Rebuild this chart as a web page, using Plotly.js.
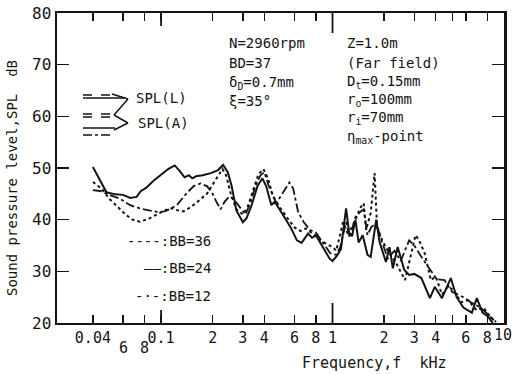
<!DOCTYPE html>
<html><head><meta charset="utf-8">
<script src="https://cdn.plot.ly/plotly-3.0.1.min.js"></script>
<style>html,body{margin:0;padding:0;background:#fff}#chart{width:512px;height:374px}</style>
</head><body><div id="chart"></div>
<script>
// ---- data (frequency in kHz, SPL in dB) ----
const freqBB36 = [0.040,0.045,0.050,0.056,0.062,0.068,0.075,0.085,0.095,0.105,0.115,0.125,0.135,0.150,0.165,0.185,0.200,0.215,0.228,0.240,0.255,0.275,0.300,0.320,0.345,0.370,0.395,0.420,0.450,0.490,0.540,0.600,0.650,0.700,0.750,0.820,0.900,1.00,1.05,1.10,1.15,1.22,1.30,1.38,1.46,1.52,1.57,1.67,1.76,1.82,1.95,2.10,2.35,2.65,2.90,3.05,3.20,3.45,3.75,4.00,4.35,4.70,5.10,5.60,6.20,6.90,7.60,8.20,8.90];
const splBB36  = [47.3,46.0,44.0,42.5,41.0,40.0,39.6,40.2,41.0,41.8,42.2,41.8,41.6,42.5,43.6,45.0,46.8,48.5,49.8,48.5,45.0,42.0,41.0,42.5,46.0,48.8,49.8,48.0,44.5,42.5,40.5,38.5,37.8,38.3,37.5,36.5,35.5,34.7,34.0,36.6,39.5,37.5,38.5,40.5,42.4,43.2,38.0,41.3,49.0,38.5,36.0,34.0,31.6,28.3,34.0,37.0,36.0,33.5,28.3,29.0,25.5,27.0,26.4,24.0,24.4,22.5,23.0,21.5,20.2];

const freqBB24 = [0.040,0.044,0.048,0.054,0.060,0.066,0.072,0.076,0.082,0.090,0.100,0.110,0.120,0.128,0.137,0.145,0.152,0.160,0.175,0.195,0.215,0.230,0.245,0.258,0.275,0.300,0.315,0.335,0.365,0.390,0.410,0.440,0.460,0.490,0.530,0.570,0.620,0.660,0.720,0.760,0.800,0.880,0.960,1.00,1.06,1.12,1.20,1.25,1.30,1.36,1.42,1.50,1.60,1.67,1.76,1.80,1.88,2.05,2.15,2.25,2.40,2.62,2.80,3.00,3.30,3.70,3.95,4.35,4.90,5.30,5.80,6.50,6.95,7.50,8.10,8.60];
const splBB24  = [50.2,47.5,45.3,44.9,44.8,44.2,44.4,45.5,46.2,47.5,48.8,49.8,50.5,49.5,48.2,48.6,48.0,48.4,48.6,49.0,49.6,50.6,49.2,46.5,41.8,39.5,40.3,42.5,46.5,48.0,46.5,42.8,43.5,42.0,40.2,38.5,36.0,35.5,37.3,36.5,37.0,34.5,32.5,32.0,33.0,34.3,42.2,37.5,36.8,40.0,35.6,37.0,33.2,32.8,38.0,40.0,35.7,31.8,34.7,30.6,34.7,30.3,29.3,29.5,28.7,24.8,27.0,24.8,28.7,25.0,23.0,22.0,24.8,22.0,21.2,20.0];

const freqBB12 = [0.040,0.045,0.050,0.058,0.066,0.075,0.085,0.095,0.105,0.115,0.125,0.140,0.155,0.170,0.185,0.198,0.210,0.222,0.235,0.250,0.265,0.285,0.310,0.330,0.355,0.380,0.400,0.425,0.470,0.520,0.560,0.590,0.630,0.680,0.740,0.800,0.880,0.970,1.05,1.11,1.20,1.26,1.36,1.45,1.52,1.60,1.68,1.80,1.93,2.10,2.30,2.50,2.80,3.00,3.30,3.70,4.05,4.50,5.00,5.80,6.40,7.30,8.40,9.00];
const splBB12  = [45.7,45.5,44.8,44.0,42.8,42.2,41.8,41.5,41.6,42.2,43.0,45.0,46.5,47.0,46.5,45.3,43.5,42.0,43.5,44.5,44.0,42.5,41.0,43.0,46.5,48.6,49.2,46.5,43.2,45.5,47.2,46.0,41.5,39.5,38.0,37.5,35.5,33.5,33.2,34.7,39.5,36.5,40.5,41.5,42.0,37.0,38.5,39.4,36.0,32.5,34.0,32.0,36.0,35.0,32.8,30.3,28.5,28.3,26.0,25.0,24.0,23.0,21.0,20.2];

const xTickVals = [0.04,0.06,0.08,0.1,0.2,0.3,0.4,0.6,0.8,1,2,3,4,5,6,8,10];
const xTickText = ["0.04","","","0.1","2","3","4","6","8","1","2","3","4","","6","8",""];
const xSubTickVals = [0.06, 0.08];          // labels set on a second row
const xSubTickText = ["6", "8"];
const xEndTickVal = 10;                     // label at the right edge, pulled inward
const xEndTickText = "10";
const xDecadeVals = [0.1, 1];               // longer ticks
const yTickVals = [20,30,40,50,60,70,80];

// ---- layout helpers (pixel -> paper), plot area 57..504 x 13..323 ----
const L = 57, T = 13, W = 447, H = 310;
const px = x => (x - L) / W;
const py = y => (T + H - y) / H;

const FONT = "DejaVu Sans Mono";
const ink = "#141414";

const traces = [
  {x: freqBB36, y: splBB36, mode: "lines", line: {color: ink, width: 2, dash: "dot"}, name: "BB=36"},
  {x: freqBB24, y: splBB24, mode: "lines", line: {color: ink, width: 2}, name: "BB=24"},
  {x: freqBB12, y: splBB12, mode: "lines", line: {color: ink, width: 1.8, dash: "dashdot"}, name: "BB=12"}
];

function note(x, y, text, extra) {
  return Object.assign({xref: "paper", yref: "paper", x: px(x), y: py(y), text: text,
    showarrow: false, xanchor: "left", yanchor: "middle",
    font: {family: FONT, size: 14, color: ink}}, extra || {});
}

const annotations = [
  note(227, 43, "N=2960rpm"),
  note(227, 63, "BD=37"),
  note(227, 83, "δ<sub>D</sub>=0.7mm"),
  note(227, 101, "ξ=35°"),
  note(345, 43, "Z=1.0m"),
  note(345, 63, "(Far field)"),
  note(345, 82, "D<sub>t</sub>=0.15mm"),
  note(345, 100, "r<sub>o</sub>=100mm"),
  note(345, 118, "r<sub>i</sub>=70mm"),
  note(345, 137, "η<sub>max</sub>-point"),
  note(134, 98, "SPL(L)"),
  note(136, 123, "SPL(A)"),
  note(213, 241, "----:BB=36", {xanchor: "right"}),
  note(213, 268, "——:BB=24", {xanchor: "right"}),
  note(213, 296, "-·-:BB=12", {xanchor: "right"}),
  note(12, 178, "Sound pressure level,SPL  dB", {xanchor: "center", textangle: -90, font: {family: FONT, size: 14, color: ink}}),
  note(374, 363, "Frequency,f  kHz", {xanchor: "center", font: {family: FONT, size: 15, color: ink}})
];
xSubTickVals.forEach((v, i) => annotations.push({xref: "x", yref: "paper", x: Math.log10(v), y: py(348),
  text: xSubTickText[i], showarrow: false, xanchor: "center", yanchor: "middle",
  font: {family: FONT, size: 15, color: ink}}));
annotations.push({xref: "x", yref: "paper", x: Math.log10(xEndTickVal), xshift: -1, y: py(335),
  text: xEndTickText, showarrow: false, xanchor: "center", yanchor: "middle",
  font: {family: FONT, size: 15, color: ink}});

function seg(x0, y0, x1, y1, dash, w) {
  return {type: "line", xref: "paper", yref: "paper", x0: px(x0), y0: py(y0), x1: px(x1), y1: py(y1),
    line: {color: ink, width: w || 1.5, dash: dash || "solid"}};
}
const shapes = [
  seg(83, 95, 113, 95, "dash"),
  seg(83, 98, 124, 98, "solid"),
  seg(83, 114, 112, 114, "dash"),
  seg(83, 117, 112, 117, "dash"),
  seg(83, 128, 115, 128, "solid"),
  seg(83, 135, 112, 135, "dashdot"),
  seg(112, 94, 128, 99), seg(128, 99, 114, 115), seg(114, 115, 128, 123), seg(128, 123, 114, 130)
];
// longer decade ticks (bottom and top)
xDecadeVals.forEach((v, i) => {
  const len = (i === 0 ? 13 : 20) / H;
  shapes.push({type: "line", xref: "x", yref: "paper", x0: v, x1: v, y0: 0, y1: len, line: {color: ink, width: 1.8}});
  shapes.push({type: "line", xref: "x", yref: "paper", x0: v, x1: v, y0: 1 - len, y1: 1, line: {color: ink, width: 1.8}});
});

const layout = {
  width: 512, height: 374,
  margin: {l: L, r: 512 - L - W, t: T, b: 374 - T - H},
  paper_bgcolor: "#fff", plot_bgcolor: "#fff",
  showlegend: false,
  font: {family: FONT, color: ink, size: 15},
  xaxis: {type: "log", range: [Math.log10(0.0247), 1.0005], tickmode: "array", tickangle: 0, automargin: false,
    tickvals: xTickVals, ticktext: xTickText, ticks: "inside", ticklen: 8, tickwidth: 1.5, tickcolor: ink,
    showline: true, linewidth: 2, linecolor: ink, mirror: "ticks", showgrid: false, zeroline: false,
    tickfont: {family: FONT, size: 15, color: ink}},
  yaxis: {range: [20, 80], tickmode: "array", tickvals: yTickVals, ticks: "inside", ticklen: 12, tickwidth: 1.5,
    tickcolor: ink, showline: true, linewidth: 2.5, linecolor: ink, mirror: "ticks", showgrid: false, zeroline: false,
    automargin: false, tickfont: {family: FONT, size: 16, color: ink}},
  annotations: annotations,
  shapes: shapes
};

Plotly.newPlot("chart", traces, layout, {staticPlot: true, displayModeBar: false});
</script></body></html>
